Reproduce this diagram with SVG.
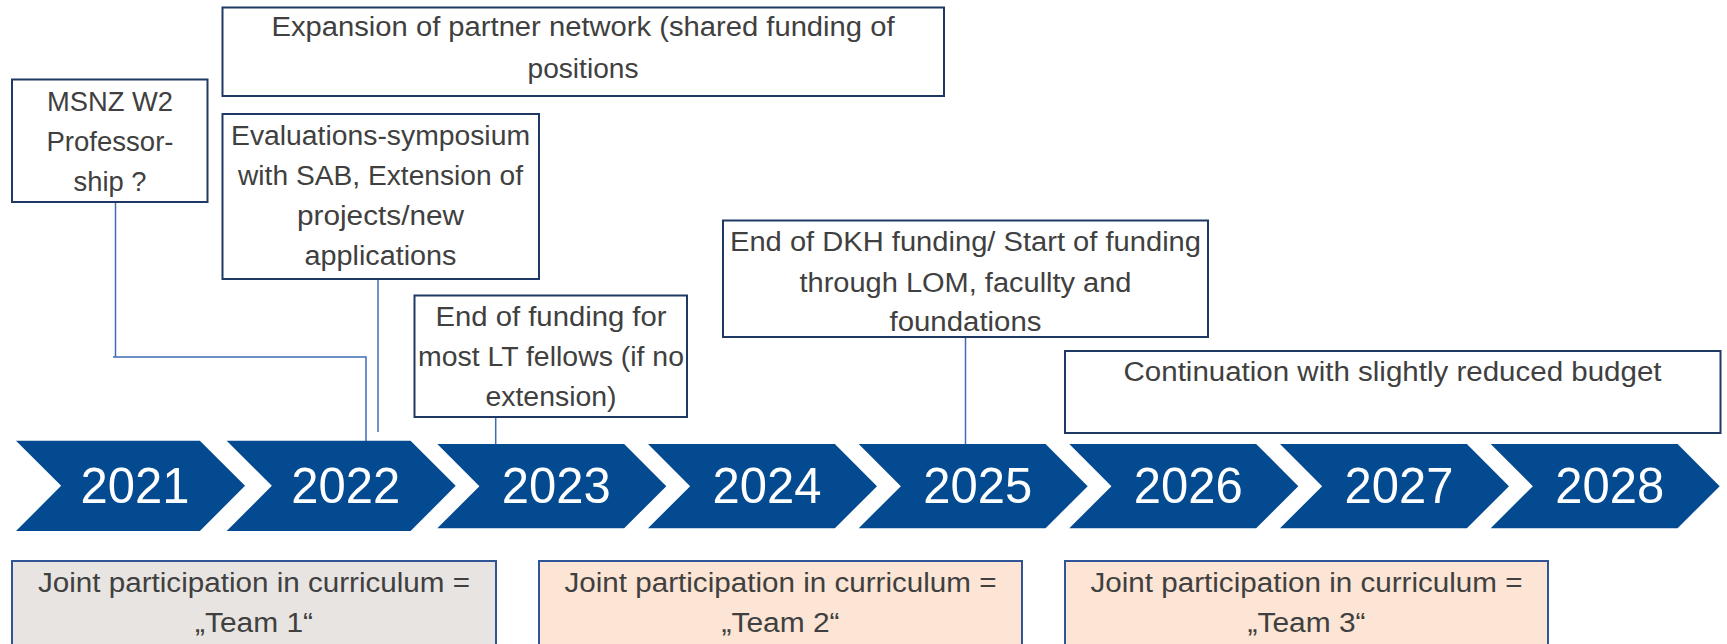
<svg xmlns="http://www.w3.org/2000/svg" width="1727" height="644" viewBox="0 0 1727 644">
<style>
.bg{fill:#ffffff}
.box{fill:#ffffff;stroke:#1F3864;stroke-width:2}
.team1{fill:#E8E4E1;stroke:#2F5597;stroke-width:2}
.team2{fill:#FCE5D4;stroke:#2F5597;stroke-width:2}
.t{font-family:"Liberation Sans",Arial,sans-serif;font-size:27px;fill:#404040;text-anchor:middle}
.chev{fill:#034A91}
.yr{font-family:"Liberation Sans",Arial,sans-serif;font-size:50px;fill:#ffffff;text-anchor:middle}
.conn{fill:none;stroke:#3E6DB5;stroke-width:1.5}
</style>
<rect class="bg" x="0" y="0" width="1727" height="644"/>

<g id="connectors">
<path class="conn" d="M115.5,202 V357"/>
<path class="conn" d="M113,357 H366 V441"/>
<path class="conn" d="M378,279 V432"/>
<path class="conn" d="M495.7,417 V444"/>
<path class="conn" d="M965.5,337 V444"/>
</g>

<g id="timeline">
<g id="y2021"><polygon class="chev" points="16,440.7 199.85,440.7 245,485.85 199.85,531 16,531 61.15,485.85"/><text class="yr" x="135" y="502.5" textLength="109" lengthAdjust="spacingAndGlyphs">2021</text></g>
<g id="y2022"><polygon class="chev" points="226.7,440.7 410.55,440.7 455.7,485.85 410.55,531 226.7,531 271.85,485.85"/><text class="yr" x="345.7" y="502.5" textLength="109" lengthAdjust="spacingAndGlyphs">2022</text></g>
<g id="y2023"><polygon class="chev" points="437.3,444 624.15,444 666.3,486.15 624.15,528.3 437.3,528.3 479.45,486.15"/><text class="yr" x="556.3" y="502.5" textLength="109" lengthAdjust="spacingAndGlyphs">2023</text></g>
<g id="y2024"><polygon class="chev" points="648,444 834.85,444 877,486.15 834.85,528.3 648,528.3 690.15,486.15"/><text class="yr" x="767" y="502.5" textLength="109" lengthAdjust="spacingAndGlyphs">2024</text></g>
<g id="y2025"><polygon class="chev" points="858.7,444 1045.55,444 1087.7,486.15 1045.55,528.3 858.7,528.3 900.85,486.15"/><text class="yr" x="977.7" y="502.5" textLength="109" lengthAdjust="spacingAndGlyphs">2025</text></g>
<g id="y2026"><polygon class="chev" points="1069.3,444 1256.15,444 1298.3,486.15 1256.15,528.3 1069.3,528.3 1111.45,486.15"/><text class="yr" x="1188.3" y="502.5" textLength="109" lengthAdjust="spacingAndGlyphs">2026</text></g>
<g id="y2027"><polygon class="chev" points="1280,444 1466.85,444 1509,486.15 1466.85,528.3 1280,528.3 1322.15,486.15"/><text class="yr" x="1399" y="502.5" textLength="109" lengthAdjust="spacingAndGlyphs">2027</text></g>
<g id="y2028"><polygon class="chev" points="1490.7,444 1677.55,444 1719.7,486.15 1677.55,528.3 1490.7,528.3 1532.85,486.15"/><text class="yr" x="1609.7" y="502.5" textLength="109" lengthAdjust="spacingAndGlyphs">2028</text></g>
</g>

<g id="msnz">
<rect class="box" x="12" y="79.5" width="195.5" height="122.5"/>
<text class="t" x="110" y="111" textLength="126" lengthAdjust="spacingAndGlyphs">MSNZ W2</text>
<text class="t" x="110" y="151" textLength="127" lengthAdjust="spacingAndGlyphs">Professor-</text>
<text class="t" x="110" y="190.5" textLength="73" lengthAdjust="spacingAndGlyphs">ship ?</text>
</g>

<g id="expansion">
<rect class="box" x="222.5" y="7.5" width="721.5" height="88.5"/>
<text class="t" x="583" y="36" textLength="623" lengthAdjust="spacingAndGlyphs">Expansion of partner network (shared funding of</text>
<text class="t" x="583" y="77.5" textLength="111" lengthAdjust="spacingAndGlyphs">positions</text>
</g>

<g id="evaluations">
<rect class="box" x="222.5" y="114" width="316.5" height="165"/>
<text class="t" x="380.5" y="145" textLength="299" lengthAdjust="spacingAndGlyphs">Evaluations-symposium</text>
<text class="t" x="380.5" y="185" textLength="285" lengthAdjust="spacingAndGlyphs">with SAB, Extension of</text>
<text class="t" x="380.5" y="225" textLength="167" lengthAdjust="spacingAndGlyphs">projects/new</text>
<text class="t" x="380.5" y="265" textLength="152" lengthAdjust="spacingAndGlyphs">applications</text>
</g>

<g id="endfunding">
<rect class="box" x="414.5" y="295.5" width="272.5" height="121.5"/>
<text class="t" x="551" y="325.5" textLength="231" lengthAdjust="spacingAndGlyphs">End of funding for</text>
<text class="t" x="551" y="365.5" textLength="266" lengthAdjust="spacingAndGlyphs">most LT fellows (if no</text>
<text class="t" x="551" y="405.5" textLength="131" lengthAdjust="spacingAndGlyphs">extension)</text>
</g>

<g id="dkh">
<rect class="box" x="723" y="220.5" width="485" height="116.5"/>
<text class="t" x="965.5" y="251" textLength="471" lengthAdjust="spacingAndGlyphs">End of DKH funding/ Start of funding</text>
<text class="t" x="965.5" y="291.5" textLength="332" lengthAdjust="spacingAndGlyphs">through LOM, facullty and</text>
<text class="t" x="965.5" y="330.5" textLength="152" lengthAdjust="spacingAndGlyphs">foundations</text>
</g>

<g id="continuation">
<rect class="box" x="1065" y="351" width="655.5" height="82"/>
<text class="t" x="1392.5" y="380.5" textLength="538" lengthAdjust="spacingAndGlyphs">Continuation with slightly reduced budget</text>
</g>

<g id="team1">
<rect class="team1" x="12" y="561" width="484" height="100"/>
<text class="t" x="254" y="592" textLength="432" lengthAdjust="spacingAndGlyphs">Joint participation in curriculum =</text>
<text class="t" x="254" y="632" textLength="118" lengthAdjust="spacingAndGlyphs">„Team 1“</text>
</g>

<g id="team2">
<rect class="team2" x="539" y="561" width="483" height="100"/>
<text class="t" x="780.5" y="592" textLength="432" lengthAdjust="spacingAndGlyphs">Joint participation in curriculum =</text>
<text class="t" x="780.5" y="632" textLength="118" lengthAdjust="spacingAndGlyphs">„Team 2“</text>
</g>

<g id="team3">
<rect class="team2" x="1065" y="561" width="483" height="100"/>
<text class="t" x="1306.5" y="592" textLength="432" lengthAdjust="spacingAndGlyphs">Joint participation in curriculum =</text>
<text class="t" x="1306.5" y="632" textLength="118" lengthAdjust="spacingAndGlyphs">„Team 3“</text>
</g>
</svg>
